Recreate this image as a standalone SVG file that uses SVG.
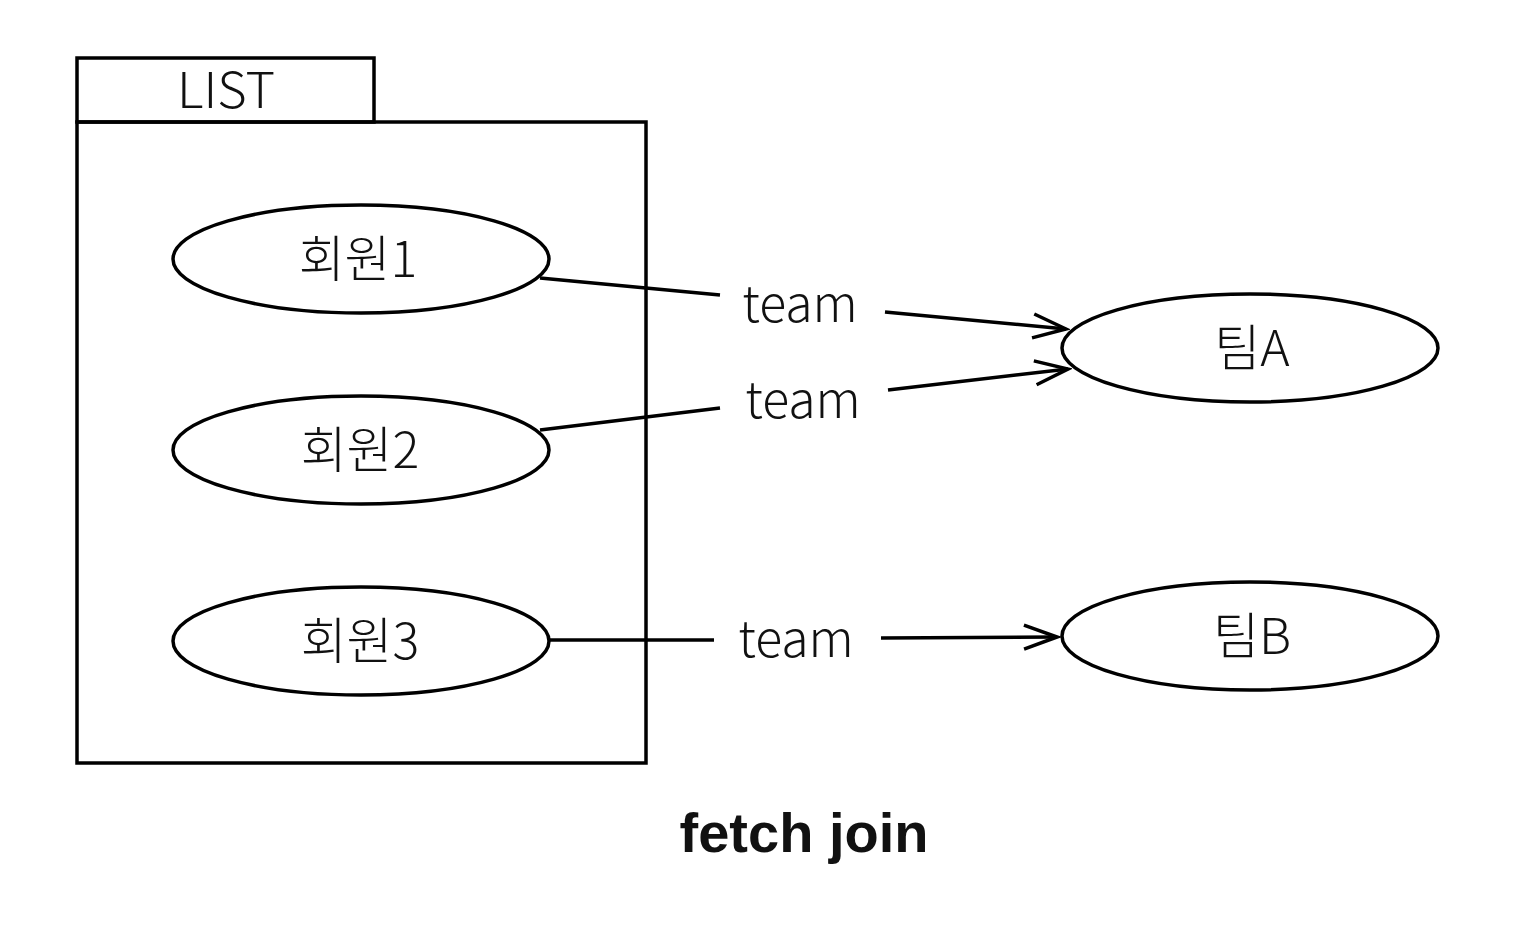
<svg xmlns="http://www.w3.org/2000/svg" width="1514" height="942" viewBox="0 0 1514 942">
<style>
.s{fill:none;stroke:#000;stroke-width:3.5}
.n{fill:#fff;stroke:#000;stroke-width:3.5}
.t{font-family:"Noto Sans CJK KR","Liberation Sans",sans-serif;font-size:50px;font-weight:300;fill:#111;text-anchor:middle}
.l{font-family:"Noto Sans CJK KR","Liberation Sans",sans-serif;font-size:50px;font-weight:300;fill:#111;text-anchor:middle}
.c{fill:none;stroke:#000;stroke-width:3.5;marker-end:url(#ah)}
</style>
<defs>
<marker id="ah" markerWidth="40" markerHeight="30" refX="36" refY="14" orient="auto" markerUnits="userSpaceOnUse">
<path d="M3,2 L36,14 L3,26" fill="none" stroke="#000" stroke-width="3.5"/>
</marker>
</defs>
<g id="list">
<rect class="s" x="77" y="58" width="297" height="64"/>
<rect class="s" x="77" y="122" width="569" height="641"/>
<text class="l" x="226" y="108" font-size="56" textLength="98" lengthAdjust="spacingAndGlyphs">LIST</text>
</g>
<g id="connectors">
<line class="s" x1="540" y1="278" x2="720" y2="295"/>
<line class="c" x1="885" y1="312" x2="1066" y2="329"/>
<line class="s" x1="540" y1="430" x2="720" y2="408"/>
<line class="c" x1="888" y1="390" x2="1068" y2="369"/>
<line class="s" x1="549" y1="640" x2="714" y2="640"/>
<line class="c" x1="881" y1="638" x2="1057" y2="637"/>
<text class="t" x="800" y="322">team</text>
<text class="t" x="803" y="418">team</text>
<text class="t" x="796" y="657">team</text>
</g>
<g id="m1">
<ellipse class="n" cx="361" cy="259" rx="188" ry="54"/>
<text class="l" x="358" y="277">회원1</text>
</g>
<g id="m2">
<ellipse class="n" cx="361" cy="450" rx="188" ry="54"/>
<text class="l" x="360" y="468">회원2</text>
</g>
<g id="m3">
<ellipse class="n" cx="361" cy="641" rx="188" ry="54"/>
<text class="l" x="360" y="659">회원3</text>
</g>
<g id="teamA">
<ellipse class="n" cx="1250" cy="348" rx="188" ry="54"/>
<text class="l" x="1252" y="366">팀A</text>
</g>
<g id="teamB">
<ellipse class="n" cx="1250" cy="636" rx="188" ry="54"/>
<text class="l" x="1252" y="654">팀B</text>
</g>
<text x="804" y="852" font-family="'Liberation Sans',sans-serif" font-size="56" font-weight="bold" text-anchor="middle" fill="#111">fetch join</text>
</svg>
